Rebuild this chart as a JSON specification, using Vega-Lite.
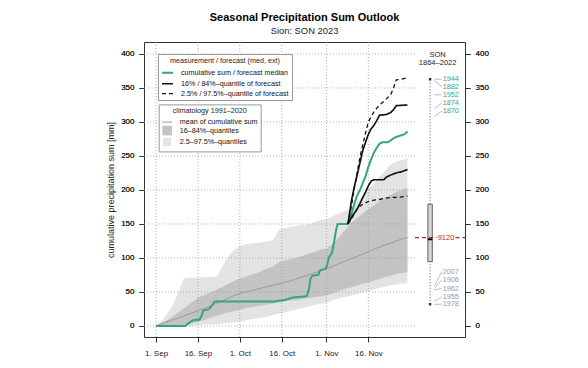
{
  "$schema": "https://vega.github.io/schema/vega-lite/v6.json",
  "width": 321,
  "height": 295,
  "autosize": {"type": "none"},
  "padding": {"left": 144, "top": 42, "right": 123, "bottom": 31},
  "background": "white",
  "title": {"text": "Seasonal Precipitation Sum Outlook", "subtitle": "Sion: SON 2023", "frame": "group"},
  "datasets": {
    "clim": [
      {"day": 0, "lo95": 0, "lo68": 0, "mean": 0, "hi68": 0, "hi95": 0},
      {"day": 3, "lo95": 0, "lo68": 0, "mean": 5, "hi68": 6, "hi95": 12},
      {"day": 6, "lo95": 0, "lo68": 0, "mean": 9, "hi68": 14, "hi95": 30},
      {"day": 9, "lo95": 0, "lo68": 1, "mean": 13, "hi68": 23, "hi95": 60},
      {"day": 10, "lo95": 0, "lo68": 2, "mean": 15, "hi68": 26, "hi95": 70},
      {"day": 12, "lo95": 0, "lo68": 3, "mean": 18, "hi68": 32, "hi95": 71},
      {"day": 15, "lo95": 1, "lo68": 6, "mean": 22, "hi68": 41, "hi95": 71},
      {"day": 18, "lo95": 2, "lo68": 10, "mean": 27, "hi68": 47, "hi95": 72},
      {"day": 21, "lo95": 2, "lo68": 14, "mean": 32, "hi68": 52, "hi95": 72},
      {"day": 22, "lo95": 3, "lo68": 15, "mean": 34, "hi68": 54, "hi95": 74},
      {"day": 25, "lo95": 4, "lo68": 19, "mean": 39, "hi68": 60, "hi95": 97},
      {"day": 27, "lo95": 5, "lo68": 21, "mean": 43, "hi68": 64, "hi95": 108},
      {"day": 30, "lo95": 6, "lo68": 24, "mean": 48, "hi68": 70, "hi95": 118},
      {"day": 33, "lo95": 9, "lo68": 27, "mean": 51, "hi68": 74, "hi95": 121},
      {"day": 36, "lo95": 11, "lo68": 29, "mean": 54, "hi68": 78, "hi95": 122},
      {"day": 39, "lo95": 13, "lo68": 31, "mean": 57, "hi68": 83, "hi95": 124},
      {"day": 42, "lo95": 16, "lo68": 33, "mean": 60, "hi68": 88, "hi95": 126},
      {"day": 44, "lo95": 18, "lo68": 35, "mean": 62, "hi68": 94, "hi95": 142},
      {"day": 47, "lo95": 21, "lo68": 37, "mean": 65, "hi68": 97, "hi95": 145},
      {"day": 50, "lo95": 24, "lo68": 38, "mean": 69, "hi68": 100, "hi95": 147},
      {"day": 53, "lo95": 27, "lo68": 40, "mean": 73, "hi68": 104, "hi95": 149},
      {"day": 56, "lo95": 30, "lo68": 42, "mean": 77, "hi68": 108, "hi95": 151},
      {"day": 58, "lo95": 32, "lo68": 43, "mean": 80, "hi68": 111, "hi95": 155},
      {"day": 61, "lo95": 34, "lo68": 45, "mean": 84, "hi68": 114, "hi95": 157},
      {"day": 64, "lo95": 39, "lo68": 49, "mean": 89, "hi68": 123, "hi95": 163},
      {"day": 67, "lo95": 42, "lo68": 54, "mean": 94, "hi68": 138, "hi95": 168},
      {"day": 70, "lo95": 45, "lo68": 57, "mean": 99, "hi68": 152, "hi95": 173},
      {"day": 73, "lo95": 48, "lo68": 61, "mean": 104, "hi68": 162, "hi95": 186},
      {"day": 76, "lo95": 51, "lo68": 64, "mean": 109, "hi68": 172, "hi95": 202},
      {"day": 78, "lo95": 54, "lo68": 67, "mean": 113, "hi68": 177, "hi95": 210},
      {"day": 80, "lo95": 56, "lo68": 69, "mean": 116, "hi68": 183, "hi95": 220},
      {"day": 82, "lo95": 58, "lo68": 72, "mean": 119, "hi68": 188, "hi95": 228},
      {"day": 84, "lo95": 60, "lo68": 74, "mean": 122, "hi68": 193, "hi95": 238},
      {"day": 86, "lo95": 61, "lo68": 76, "mean": 125, "hi68": 197, "hi95": 242},
      {"day": 88, "lo95": 62, "lo68": 78, "mean": 128, "hi68": 200, "hi95": 244},
      {"day": 90, "lo95": 63, "lo68": 79, "mean": 130, "hi68": 203, "hi95": 246}
    ],
    "climlegend": [
      {"item": "mean of cumulative sum"},
      {"item": "16–84%–quantiles"},
      {"item": "2.5–97.5%–quantiles"}
    ],
    "lines": [
      {"day": 0, "value": 0, "series": "cumulative sum / forecast median", "q": "med"},
      {"day": 10.4, "value": 0, "series": "cumulative sum / forecast median", "q": "med"},
      {"day": 11, "value": 2, "series": "cumulative sum / forecast median", "q": "med"},
      {"day": 12, "value": 5, "series": "cumulative sum / forecast median", "q": "med"},
      {"day": 13, "value": 8, "series": "cumulative sum / forecast median", "q": "med"},
      {"day": 14, "value": 9, "series": "cumulative sum / forecast median", "q": "med"},
      {"day": 15.5, "value": 9, "series": "cumulative sum / forecast median", "q": "med"},
      {"day": 16.3, "value": 15, "series": "cumulative sum / forecast median", "q": "med"},
      {"day": 17, "value": 23, "series": "cumulative sum / forecast median", "q": "med"},
      {"day": 18.5, "value": 24, "series": "cumulative sum / forecast median", "q": "med"},
      {"day": 19.5, "value": 27, "series": "cumulative sum / forecast median", "q": "med"},
      {"day": 20.5, "value": 33, "series": "cumulative sum / forecast median", "q": "med"},
      {"day": 21, "value": 36, "series": "cumulative sum / forecast median", "q": "med"},
      {"day": 42.5, "value": 36, "series": "cumulative sum / forecast median", "q": "med"},
      {"day": 44, "value": 37, "series": "cumulative sum / forecast median", "q": "med"},
      {"day": 46, "value": 38, "series": "cumulative sum / forecast median", "q": "med"},
      {"day": 47.5, "value": 40, "series": "cumulative sum / forecast median", "q": "med"},
      {"day": 49, "value": 42, "series": "cumulative sum / forecast median", "q": "med"},
      {"day": 52, "value": 43, "series": "cumulative sum / forecast median", "q": "med"},
      {"day": 54, "value": 44, "series": "cumulative sum / forecast median", "q": "med"},
      {"day": 54.8, "value": 55, "series": "cumulative sum / forecast median", "q": "med"},
      {"day": 55.3, "value": 70, "series": "cumulative sum / forecast median", "q": "med"},
      {"day": 56, "value": 74, "series": "cumulative sum / forecast median", "q": "med"},
      {"day": 58, "value": 75, "series": "cumulative sum / forecast median", "q": "med"},
      {"day": 58.8, "value": 82, "series": "cumulative sum / forecast median", "q": "med"},
      {"day": 60.5, "value": 84, "series": "cumulative sum / forecast median", "q": "med"},
      {"day": 61.2, "value": 88, "series": "cumulative sum / forecast median", "q": "med"},
      {"day": 61.8, "value": 100, "series": "cumulative sum / forecast median", "q": "med"},
      {"day": 63, "value": 108, "series": "cumulative sum / forecast median", "q": "med"},
      {"day": 63.8, "value": 125, "series": "cumulative sum / forecast median", "q": "med"},
      {"day": 64.5, "value": 142, "series": "cumulative sum / forecast median", "q": "med"},
      {"day": 65, "value": 150, "series": "cumulative sum / forecast median", "q": "med"},
      {"day": 68.7, "value": 150, "series": "cumulative sum / forecast median", "q": "med"},
      {"day": 69.5, "value": 158, "series": "cumulative sum / forecast median", "q": "med"},
      {"day": 70, "value": 165, "series": "cumulative sum / forecast median", "q": "med"},
      {"day": 71, "value": 180, "series": "cumulative sum / forecast median", "q": "med"},
      {"day": 72, "value": 192, "series": "cumulative sum / forecast median", "q": "med"},
      {"day": 73, "value": 200, "series": "cumulative sum / forecast median", "q": "med"},
      {"day": 74, "value": 210, "series": "cumulative sum / forecast median", "q": "med"},
      {"day": 75, "value": 220, "series": "cumulative sum / forecast median", "q": "med"},
      {"day": 76, "value": 234, "series": "cumulative sum / forecast median", "q": "med"},
      {"day": 77, "value": 245, "series": "cumulative sum / forecast median", "q": "med"},
      {"day": 78, "value": 255, "series": "cumulative sum / forecast median", "q": "med"},
      {"day": 79, "value": 262, "series": "cumulative sum / forecast median", "q": "med"},
      {"day": 80, "value": 268, "series": "cumulative sum / forecast median", "q": "med"},
      {"day": 81, "value": 270, "series": "cumulative sum / forecast median", "q": "med"},
      {"day": 83, "value": 270, "series": "cumulative sum / forecast median", "q": "med"},
      {"day": 84, "value": 273, "series": "cumulative sum / forecast median", "q": "med"},
      {"day": 85, "value": 276, "series": "cumulative sum / forecast median", "q": "med"},
      {"day": 86, "value": 278, "series": "cumulative sum / forecast median", "q": "med"},
      {"day": 87.5, "value": 280, "series": "cumulative sum / forecast median", "q": "med"},
      {"day": 89, "value": 282, "series": "cumulative sum / forecast median", "q": "med"},
      {"day": 90, "value": 286, "series": "cumulative sum / forecast median", "q": "med"},

      {"day": 68.7, "value": 150, "series": "16% / 84%–quantile of forecast", "q": "q84"},
      {"day": 70, "value": 185, "series": "16% / 84%–quantile of forecast", "q": "q84"},
      {"day": 71, "value": 205, "series": "16% / 84%–quantile of forecast", "q": "q84"},
      {"day": 72, "value": 222, "series": "16% / 84%–quantile of forecast", "q": "q84"},
      {"day": 73, "value": 240, "series": "16% / 84%–quantile of forecast", "q": "q84"},
      {"day": 74, "value": 258, "series": "16% / 84%–quantile of forecast", "q": "q84"},
      {"day": 75, "value": 270, "series": "16% / 84%–quantile of forecast", "q": "q84"},
      {"day": 76, "value": 282, "series": "16% / 84%–quantile of forecast", "q": "q84"},
      {"day": 77, "value": 290, "series": "16% / 84%–quantile of forecast", "q": "q84"},
      {"day": 78, "value": 295, "series": "16% / 84%–quantile of forecast", "q": "q84"},
      {"day": 79, "value": 302, "series": "16% / 84%–quantile of forecast", "q": "q84"},
      {"day": 80, "value": 310, "series": "16% / 84%–quantile of forecast", "q": "q84"},
      {"day": 82.5, "value": 311, "series": "16% / 84%–quantile of forecast", "q": "q84"},
      {"day": 84, "value": 314, "series": "16% / 84%–quantile of forecast", "q": "q84"},
      {"day": 85, "value": 318, "series": "16% / 84%–quantile of forecast", "q": "q84"},
      {"day": 86, "value": 324, "series": "16% / 84%–quantile of forecast", "q": "q84"},
      {"day": 90, "value": 325, "series": "16% / 84%–quantile of forecast", "q": "q84"},

      {"day": 68.7, "value": 150, "series": "16% / 84%–quantile of forecast", "q": "q16"},
      {"day": 69.5, "value": 156, "series": "16% / 84%–quantile of forecast", "q": "q16"},
      {"day": 70, "value": 160, "series": "16% / 84%–quantile of forecast", "q": "q16"},
      {"day": 71, "value": 166, "series": "16% / 84%–quantile of forecast", "q": "q16"},
      {"day": 72, "value": 172, "series": "16% / 84%–quantile of forecast", "q": "q16"},
      {"day": 73, "value": 180, "series": "16% / 84%–quantile of forecast", "q": "q16"},
      {"day": 74, "value": 189, "series": "16% / 84%–quantile of forecast", "q": "q16"},
      {"day": 75, "value": 197, "series": "16% / 84%–quantile of forecast", "q": "q16"},
      {"day": 76, "value": 206, "series": "16% / 84%–quantile of forecast", "q": "q16"},
      {"day": 77, "value": 213, "series": "16% / 84%–quantile of forecast", "q": "q16"},
      {"day": 78, "value": 215, "series": "16% / 84%–quantile of forecast", "q": "q16"},
      {"day": 81.5, "value": 215, "series": "16% / 84%–quantile of forecast", "q": "q16"},
      {"day": 82.5, "value": 219, "series": "16% / 84%–quantile of forecast", "q": "q16"},
      {"day": 84, "value": 222, "series": "16% / 84%–quantile of forecast", "q": "q16"},
      {"day": 86, "value": 225, "series": "16% / 84%–quantile of forecast", "q": "q16"},
      {"day": 88, "value": 227, "series": "16% / 84%–quantile of forecast", "q": "q16"},
      {"day": 90, "value": 230, "series": "16% / 84%–quantile of forecast", "q": "q16"},

      {"day": 68.7, "value": 150, "series": "2.5% / 97.5%–quantile of forecast", "q": "q975"},
      {"day": 70, "value": 178, "series": "2.5% / 97.5%–quantile of forecast", "q": "q975"},
      {"day": 71, "value": 203, "series": "2.5% / 97.5%–quantile of forecast", "q": "q975"},
      {"day": 72, "value": 226, "series": "2.5% / 97.5%–quantile of forecast", "q": "q975"},
      {"day": 73, "value": 248, "series": "2.5% / 97.5%–quantile of forecast", "q": "q975"},
      {"day": 74, "value": 266, "series": "2.5% / 97.5%–quantile of forecast", "q": "q975"},
      {"day": 75, "value": 284, "series": "2.5% / 97.5%–quantile of forecast", "q": "q975"},
      {"day": 76, "value": 300, "series": "2.5% / 97.5%–quantile of forecast", "q": "q975"},
      {"day": 77, "value": 308, "series": "2.5% / 97.5%–quantile of forecast", "q": "q975"},
      {"day": 78, "value": 315, "series": "2.5% / 97.5%–quantile of forecast", "q": "q975"},
      {"day": 79, "value": 320, "series": "2.5% / 97.5%–quantile of forecast", "q": "q975"},
      {"day": 80, "value": 325, "series": "2.5% / 97.5%–quantile of forecast", "q": "q975"},
      {"day": 82, "value": 332, "series": "2.5% / 97.5%–quantile of forecast", "q": "q975"},
      {"day": 84, "value": 340, "series": "2.5% / 97.5%–quantile of forecast", "q": "q975"},
      {"day": 85, "value": 350, "series": "2.5% / 97.5%–quantile of forecast", "q": "q975"},
      {"day": 86, "value": 362, "series": "2.5% / 97.5%–quantile of forecast", "q": "q975"},
      {"day": 88, "value": 363, "series": "2.5% / 97.5%–quantile of forecast", "q": "q975"},
      {"day": 90, "value": 365, "series": "2.5% / 97.5%–quantile of forecast", "q": "q975"},

      {"day": 68.7, "value": 150, "series": "2.5% / 97.5%–quantile of forecast", "q": "q025"},
      {"day": 70, "value": 158, "series": "2.5% / 97.5%–quantile of forecast", "q": "q025"},
      {"day": 71, "value": 165, "series": "2.5% / 97.5%–quantile of forecast", "q": "q025"},
      {"day": 72, "value": 172, "series": "2.5% / 97.5%–quantile of forecast", "q": "q025"},
      {"day": 73, "value": 176, "series": "2.5% / 97.5%–quantile of forecast", "q": "q025"},
      {"day": 74, "value": 179, "series": "2.5% / 97.5%–quantile of forecast", "q": "q025"},
      {"day": 76, "value": 183, "series": "2.5% / 97.5%–quantile of forecast", "q": "q025"},
      {"day": 78, "value": 185, "series": "2.5% / 97.5%–quantile of forecast", "q": "q025"},
      {"day": 80, "value": 186, "series": "2.5% / 97.5%–quantile of forecast", "q": "q025"},
      {"day": 82, "value": 188, "series": "2.5% / 97.5%–quantile of forecast", "q": "q025"},
      {"day": 84, "value": 189, "series": "2.5% / 97.5%–quantile of forecast", "q": "q025"},
      {"day": 86, "value": 189, "series": "2.5% / 97.5%–quantile of forecast", "q": "q025"},
      {"day": 88, "value": 190, "series": "2.5% / 97.5%–quantile of forecast", "q": "q025"},
      {"day": 90, "value": 191, "series": "2.5% / 97.5%–quantile of forecast", "q": "q025"}
    ],
    "box": [{"min": 32, "q25": 94.6, "median": 127.5, "q75": 179, "max": 363}],
    "years": [
      {"year": "1944", "sum": 363, "labelAt": 363, "group": "high"},
      {"year": "1882", "sum": 361, "labelAt": 352, "group": "high"},
      {"year": "1952", "sum": 340, "labelAt": 340, "group": "high"},
      {"year": "1874", "sum": 319, "labelAt": 328, "group": "high"},
      {"year": "1870", "sum": 308, "labelAt": 316, "group": "high"},
      {"year": "2007", "sum": 58, "labelAt": 80, "group": "low"},
      {"year": "1906", "sum": 55, "labelAt": 68, "group": "low"},
      {"year": "1962", "sum": 53, "labelAt": 55, "group": "low"},
      {"year": "1955", "sum": 36, "labelAt": 43, "group": "low"},
      {"year": "1978", "sum": 32, "labelAt": 32, "group": "low"}
    ]
  },
  "layer": [
    {
      "data": {"name": "clim"},
      "mark": {"type": "area", "opacity": 1, "fill": "#e3e3e3"},
      "encoding": {
        "x": {"field": "day", "type": "quantitative", "title": null,
              "scale": {"domain": [-4.3, 110.6], "nice": false, "zero": false},
              "axis": {"values": [0, 15, 30, 45, 61, 76], "labelPadding": 7,
                       "labelExpr": "datum.value == 0 ? '1. Sep' : datum.value == 15 ? '16. Sep' : datum.value == 30 ? '1. Oct' : datum.value == 45 ? '16. Oct' : datum.value == 61 ? '1. Nov' : '16. Nov'"}},
        "y": {"field": "hi95", "type": "quantitative", "title": null,
              "scale": {"domain": [-16.2, 417.6], "nice": false, "zero": false}, "axis": null},
        "y2": {"field": "lo95"}
      }
    },
    {
      "data": {"name": "clim"},
      "mark": {"type": "area", "opacity": 1, "fill": "#c3c3c3"},
      "encoding": {
        "x": {"field": "day", "type": "quantitative", "title": null},
        "y": {"field": "hi68", "type": "quantitative", "title": null, "axis": null},
        "y2": {"field": "lo68"}
      }
    },
    {
      "data": {"name": "clim"},
      "mark": {"type": "line", "strokeWidth": 1, "stroke": "#9a9a9a"},
      "encoding": {
        "x": {"field": "day", "type": "quantitative", "title": null},
        "y": {"field": "mean", "type": "quantitative", "title": null, "axis": null}
      }
    },
    {
      "data": {"name": "climlegend"},
      "mark": {"type": "point", "filled": true, "opacity": 0, "strokeWidth": 1},
      "encoding": {
        "color": {"field": "item", "type": "nominal",
                  "scale": {"domain": ["mean of cumulative sum", "16–84%–quantiles", "2.5–97.5%–quantiles"], "range": ["#9a9a9a", "#c3c3c3", "#e3e3e3"]},
                  "legend": {"title": "climatology 1991–2020", "orient": "none", "legendX": 14.7, "legendY": 62.4, "symbolOpacity": 1, "symbolStrokeWidth": 1}},
        "stroke": {"field": "item", "type": "nominal",
                   "scale": {"domain": ["mean of cumulative sum", "16–84%–quantiles", "2.5–97.5%–quantiles"], "range": ["#9a9a9a", "#c3c3c3", "#e3e3e3"]},
                   "legend": {"title": "climatology 1991–2020", "orient": "none", "legendX": 14.7, "legendY": 62.4, "symbolOpacity": 1, "symbolStrokeWidth": 1}},
        "shape": {"field": "item", "type": "nominal",
                  "scale": {"domain": ["mean of cumulative sum", "16–84%–quantiles", "2.5–97.5%–quantiles"], "range": ["stroke", "square", "square"]},
                  "legend": {"title": "climatology 1991–2020", "orient": "none", "legendX": 14.7, "legendY": 62.4, "symbolOpacity": 1, "symbolStrokeWidth": 1}},
        "size": {"field": "item", "type": "nominal",
                 "scale": {"domain": ["mean of cumulative sum", "16–84%–quantiles", "2.5–97.5%–quantiles"], "range": [100, 50, 50]},
                 "legend": {"title": "climatology 1991–2020", "orient": "none", "legendX": 14.7, "legendY": 62.4, "symbolOpacity": 1, "symbolStrokeWidth": 1}}
      }
    },
    {
      "data": {"values": [{"v": 0}, {"v": 50}, {"v": 100}, {"v": 150}, {"v": 200}, {"v": 250}, {"v": 300}, {"v": 350}, {"v": 400}]},
      "mark": {"type": "rule", "stroke": "#9a9a9a", "strokeDash": [1, 2], "strokeWidth": 0.8},
      "encoding": {
        "y": {"field": "v", "type": "quantitative", "title": "cumulative precipitation sum [mm]",
              "axis": {"orient": "left", "values": [0, 50, 100, 150, 200, 250, 300, 350, 400], "titlePadding": 5}},
        "x": {"datum": -4.3},
        "x2": {"datum": 92.7}
      }
    },
    {
      "data": {"values": [{"d": 0}, {"d": 15}, {"d": 30}, {"d": 45}, {"d": 61}, {"d": 76}]},
      "mark": {"type": "rule", "stroke": "#9a9a9a", "strokeDash": [1, 2], "strokeWidth": 0.8},
      "encoding": {
        "x": {"field": "d", "type": "quantitative", "title": null}
      }
    },
    {
      "data": {"name": "lines"},
      "mark": {"type": "line"},
      "encoding": {
        "x": {"field": "day", "type": "quantitative", "title": null},
        "y": {"field": "value", "type": "quantitative", "title": null, "axis": null},
        "detail": {"field": "q"},
        "color": {"field": "series", "type": "nominal",
                  "scale": {"domain": ["cumulative sum / forecast median", "16% / 84%–quantile of forecast", "2.5% / 97.5%–quantile of forecast"],
                            "range": ["#35a57f", "#111111", "#111111"]},
                  "legend": {"title": "measurement / forecast (med, ext)", "orient": "none", "legendX": 14, "legendY": 12, "symbolSize": 121}},
        "strokeDash": {"field": "series", "type": "nominal",
                       "scale": {"domain": ["cumulative sum / forecast median", "16% / 84%–quantile of forecast", "2.5% / 97.5%–quantile of forecast"],
                                 "range": [[1, 0], [1, 0], [4, 3]]},
                       "legend": {"title": "measurement / forecast (med, ext)", "orient": "none", "legendX": 14, "legendY": 12, "symbolSize": 121}},
        "strokeWidth": {"field": "series", "type": "nominal",
                        "scale": {"domain": ["cumulative sum / forecast median", "16% / 84%–quantile of forecast", "2.5% / 97.5%–quantile of forecast"],
                                  "range": [2, 1.3, 1.3]},
                        "legend": null}
      }
    },
    {
      "mark": {"type": "rule", "stroke": "#333333", "strokeWidth": 1},
      "encoding": {"x": {"datum": 92.7}}
    },
    {
      "data": {"name": "box"},
      "mark": {"type": "rule", "stroke": "#555555", "strokeDash": [1, 2], "strokeWidth": 1},
      "encoding": {
        "x": {"datum": 98.1},
        "y": {"field": "min", "type": "quantitative", "title": null, "axis": null},
        "y2": {"field": "q25"}
      }
    },
    {
      "data": {"name": "box"},
      "mark": {"type": "rule", "stroke": "#555555", "strokeDash": [1, 2], "strokeWidth": 1},
      "encoding": {
        "x": {"datum": 98.1},
        "y": {"field": "q75", "type": "quantitative", "title": null, "axis": null},
        "y2": {"field": "max"}
      }
    },
    {
      "data": {"name": "box"},
      "mark": {"type": "rect", "fill": "#d4d4d4", "stroke": "#444444", "strokeWidth": 0.8},
      "encoding": {
        "x": {"datum": 97.3},
        "x2": {"datum": 98.9},
        "y": {"field": "q25", "type": "quantitative", "title": null,
              "axis": {"orient": "right", "values": [0, 50, 100, 150, 200, 250, 300, 350, 400], "labelPadding": 5}},
        "y2": {"field": "q75"}
      }
    },
    {
      "data": {"name": "box"},
      "mark": {"type": "rule", "stroke": "#000000", "strokeWidth": 2},
      "encoding": {
        "x": {"datum": 97.3},
        "x2": {"datum": 98.9},
        "y": {"field": "median", "type": "quantitative", "title": null, "axis": null}
      }
    },
    {
      "data": {"name": "box"},
      "mark": {"type": "square", "filled": true, "color": "#333333", "size": 6, "opacity": 1},
      "encoding": {
        "x": {"datum": 98.1},
        "y": {"field": "min", "type": "quantitative", "title": null, "axis": null}
      }
    },
    {
      "data": {"name": "box"},
      "mark": {"type": "square", "filled": true, "color": "#333333", "size": 6, "opacity": 1},
      "encoding": {
        "x": {"datum": 98.1},
        "y": {"field": "max", "type": "quantitative", "title": null, "axis": null}
      }
    },
    {
      "data": {"values": [{"label": "9120", "value": 130}]},
      "mark": {"type": "rule", "stroke": "#b3262a", "strokeDash": [4, 3], "strokeWidth": 1.2},
      "encoding": {
        "x": {"datum": 92.7},
        "x2": {"datum": 100.4},
        "y": {"field": "value", "type": "quantitative", "title": null, "axis": null}
      }
    },
    {
      "data": {"values": [{"label": "9120", "value": 130}]},
      "mark": {"type": "rule", "stroke": "#b3262a", "strokeDash": [4, 3], "strokeWidth": 1.2},
      "encoding": {
        "x": {"datum": 107.2},
        "x2": {"datum": 110.6},
        "y": {"field": "value", "type": "quantitative", "title": null, "axis": null}
      }
    },
    {
      "data": {"values": [{"label": "9120", "value": 130}]},
      "mark": {"type": "text", "color": "#b3262a", "fontSize": 7.5, "align": "center", "baseline": "middle"},
      "encoding": {
        "x": {"datum": 103.8},
        "y": {"field": "value", "type": "quantitative", "title": null, "axis": null},
        "text": {"field": "label"}
      }
    },
    {
      "data": {"name": "years"},
      "mark": {"type": "rule", "stroke": "#8f8f8f", "strokeWidth": 0.6},
      "encoding": {
        "x": {"datum": 99.6},
        "x2": {"datum": 102.3},
        "y": {"field": "sum", "type": "quantitative", "title": null, "axis": null},
        "y2": {"field": "labelAt"}
      }
    },
    {
      "data": {"name": "years"},
      "mark": {"type": "text", "fontSize": 7.3, "align": "left", "baseline": "middle"},
      "encoding": {
        "x": {"datum": 102.6},
        "y": {"field": "labelAt", "type": "quantitative", "title": null, "axis": null},
        "text": {"field": "year"},
        "color": {"condition": {"test": "datum.group === 'high'", "value": "#35a57f"}, "value": "#9a9a9a"}
      }
    },
    {
      "data": {"values": [{"label": "SON"}]},
      "mark": {"type": "text", "fontSize": 7.5, "align": "center", "baseline": "middle", "color": "#222222"},
      "encoding": {
        "x": {"datum": 100.8},
        "y": {"datum": 398.5},
        "text": {"field": "label"}
      }
    },
    {
      "data": {"values": [{"label": "1864–2022"}]},
      "mark": {"type": "text", "fontSize": 7.5, "align": "center", "baseline": "middle", "color": "#222222"},
      "encoding": {
        "x": {"datum": 100.8},
        "y": {"datum": 386},
        "text": {"field": "label"}
      }
    }
  ],
  "resolve": {
    "scale": {"color": "independent", "strokeDash": "independent", "strokeWidth": "independent", "stroke": "independent", "shape": "independent", "size": "independent"},
    "axis": {"y": "independent"}
  },
  "config": {
    "font": "Liberation Sans",
    "view": {"stroke": "#333333", "strokeWidth": 1},
    "axis": {"grid": false, "domain": false, "tickColor": "#333333", "tickSize": 5, "labelColor": "#222222",
             "labelFontSize": 8, "labelPadding": 5, "titleFontSize": 9, "titleFontWeight": "normal", "titleColor": "#222222"},
    "legend": {"orient": "none", "padding": 3, "strokeColor": "#999999", "fillColor": "white",
               "titleFontSize": 7.2, "titleFontWeight": "normal", "titleColor": "#222222", "titleAnchor": "middle",
               "titlePadding": 2, "labelFontSize": 7.2, "labelColor": "#111111", "symbolSize": 100,
               "rowPadding": -2, "labelOffset": 7, "symbolStrokeWidth": 1.5, "cornerRadius": 0},
    "title": {"anchor": "middle", "fontSize": 11, "fontWeight": "bold", "color": "#000000",
              "subtitleFontSize": 9.4, "subtitleColor": "#222222", "subtitleFont": "Liberation Sans",
              "offset": 6, "subtitlePadding": 4}
  }
}
